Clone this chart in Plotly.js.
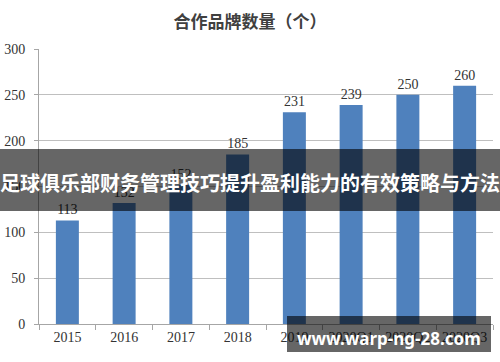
<!DOCTYPE html>
<html>
<head>
<meta charset="utf-8">
<script src="https://cdn.plot.ly/plotly-3.0.1.min.js"></script>
<style>html,body{margin:0;padding:0;background:#fff;}#chart{width:500px;height:362px;}</style>
</head>
<body>
<div id="chart"></div>
<script>
// ---- data ----
const categories = ["2015", "2016", "2017", "2018", "2019", "2020Q1", "2020Q2", "2020Q3"];
const brandCounts = [113, 132, 152, 185, 231, 239, 250, 260];
const yTickValues = [0, 50, 100, 150, 200, 250, 300];
const chartTitle = "合作品牌数量（个）";
const bannerText = "足球俱乐部财务管理技巧提升盈利能力的有效策略与方法";
const watermarkText = "www.warp-ng-28.com";

// ---- layout helpers (pixel -> paper) ----
const W = 500, H = 362;
const M = {l: 39, r: 7, t: 49, b: 38};
const PW = W - M.l - M.r, PH = H - M.t - M.b;
const px = x => (x - M.l) / PW;
const py = y => (H - M.b - y) / PH;

const serif = "'Liberation Serif', 'Times New Roman', serif";
const cjk = "'Noto Sans CJK SC', 'Noto Sans', sans-serif";

const trace = {
  type: "bar",
  x: categories,
  y: brandCounts,
  marker: {color: "#4f81bd"},
  text: brandCounts.map(String),
  textposition: "outside",
  textfont: {family: serif, size: 14, color: "#333333"},
  cliponaxis: false,
  hoverinfo: "none"
};

const layout = {
  width: W, height: H,
  margin: M,
  paper_bgcolor: "#ffffff",
  plot_bgcolor: "#ffffff",
  showlegend: false,
  bargap: 0.595,
  title: {
    text: chartTitle,
    font: {family: cjk, size: 17, color: "#404040", weight: "bold"},
    x: 0.5, xref: "container", xanchor: "center",
    y: 1 - 22 / H, yref: "container", yanchor: "middle"
  },
  xaxis: {
    type: "category",
    showline: true, linecolor: "#a6a6a6", linewidth: 1,
    ticks: "outside", tickson: "boundaries", ticklen: 5, tickcolor: "#a6a6a6",
    tickfont: {family: serif, size: 14, color: "#333333"},
    showgrid: false, zeroline: false, fixedrange: true
  },
  yaxis: {
    range: [0, 300],
    tickvals: yTickValues,
    showline: true, linecolor: "#a6a6a6", linewidth: 1,
    ticks: "outside", ticklen: 4, tickcolor: "#a6a6a6",
    ticklabelstandoff: 6,
    tickfont: {family: serif, size: 14, color: "#333333"},
    showgrid: true, gridcolor: "#bfbfbf", gridwidth: 1,
    zeroline: false, fixedrange: true
  },
  shapes: [
    {type: "rect", xref: "paper", yref: "paper", layer: "above",
     x0: px(0), x1: px(500), y0: py(211), y1: py(149),
     fillcolor: "rgba(0,0,0,0.6)", line: {width: 0}},
    {type: "rect", xref: "paper", yref: "paper", layer: "above",
     x0: px(287), x1: px(491), y0: py(352), y1: py(316),
     fillcolor: "rgba(0,0,0,0.6)", line: {width: 0}}
  ],
  annotations: [
    {text: bannerText, xref: "paper", yref: "paper",
     x: px(250), y: py(182), xanchor: "center", yanchor: "middle",
     showarrow: false,
     font: {family: cjk, size: 20, color: "#ffffff", weight: "bold"}},
    {text: watermarkText, xref: "paper", yref: "paper",
     x: px(389), y: py(338), xanchor: "center", yanchor: "middle",
     showarrow: false,
     font: {family: "'Noto Sans', 'DejaVu Sans', sans-serif", size: 17, color: "#ffffff", weight: "bold"}}
  ]
};

Plotly.newPlot("chart", [trace], layout, {staticPlot: true, displayModeBar: false});
</script>
</body>
</html>
